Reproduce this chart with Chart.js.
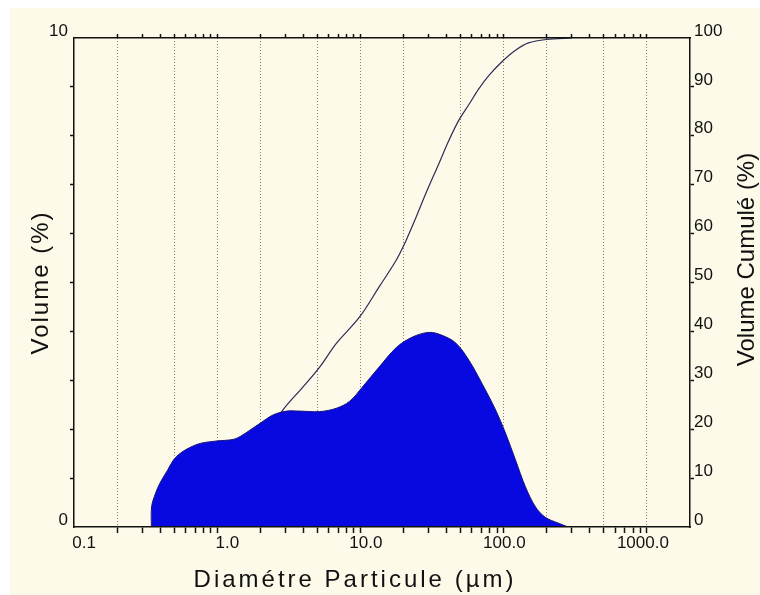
<!DOCTYPE html>
<html>
<head>
<meta charset="utf-8">
<script src="https://cdn.jsdelivr.net/npm/chart.js@4/dist/chart.umd.min.js"></script>
<style>
  html, body { margin: 0; padding: 0; background: #fff; }
  #cadre { position: absolute; left: 10px; top: 8px; width: 750px; height: 587px; background: #fdfae9; }
</style>
</head>
<body>
<div id="cadre"><canvas id="granulo" width="750" height="587"></canvas></div>
<script>
// distribution granulométrique (volume %)
const diametre = [0.347, 0.348, 0.371, 0.402, 0.450, 0.495, 0.553, 0.649, 0.762, 1.0, 1.29, 1.445, 1.69, 1.99, 2.45,
  3.06, 3.77, 5.19, 6.81, 8.4, 10.3, 13.5, 17.8, 22.9, 30.1, 37.1, 46.4, 57.2, 70.4, 88, 103, 121, 142, 167, 195, 240, 282];
const volume = [0, 0.41, 0.69, 0.92, 1.16, 1.37, 1.51, 1.63, 1.71, 1.76, 1.79, 1.85, 1.98, 2.12, 2.29,
  2.37, 2.37, 2.36, 2.43, 2.57, 2.86, 3.27, 3.67, 3.88, 3.98, 3.92, 3.76, 3.41, 2.94, 2.39, 1.92, 1.37, 0.82, 0.41, 0.20, 0.08, 0];

// volume cumulé (%)
const diametreCumul = [0.347, 0.5, 0.7, 1.0, 1.5, 2.0, 2.45, 2.87, 3.96, 5.19, 6.81, 9.84, 13.5, 17.8, 20.9, 24.5, 28.7,
  35.4, 41.5, 48.7, 57.2, 67.0, 78.7, 96.8, 121, 149, 199, 300];
const volumeCumul = [0, 1.5, 3.5, 7, 12, 16.5, 20.5, 23.9, 28.6, 32.7, 37.6, 42.9, 49.1, 54.6, 58.7, 63.4, 68.3,
  74.4, 79.1, 83.2, 86.4, 89.6, 92.3, 95.1, 97.5, 99.0, 99.7, 100];

const xLabelValues = [0.1, 1, 10, 100, 1000];
const xLabelTexts = ['0.1', '1.0', '10.0', '100.0', '1000.0'];
const yLabelValues = [0, 10];

// petites graduations 1..9 par décade
const xTicks = [];
[0.1, 1, 10, 100].forEach(dec => {
  for (let k = 1; k < 10; k++) xTicks.push(+(dec * k).toPrecision(3));
});
xTicks.push(1000);

function mantisse(v) {
  return Math.round(v / Math.pow(10, Math.floor(Math.log10(v) + 1e-9)));
}
function grilleX(v) {
  return v > 0.1 && [1, 2, 5].includes(mantisse(v));
}

const police = "'Liberation Sans', Arial, sans-serif";
const noir = '#111';
const transparent = 'rgba(0,0,0,0)';

// réglage des titres d'axes (décalage, espacement, sens)
const titreAjust = {
  x: { dx: -27, dy: 0, spacing: '3px', flip: false },
  y: { dx: 0, dy: 0, spacing: '2px', flip: false },
  y2: { dx: 0, dy: -23, spacing: '0px', flip: true }
};
const titrePlugin = {
  id: 'titres',
  beforeDraw(chart) {
    Object.keys(titreAjust).forEach(id => {
      const sc = chart.scales[id];
      if (!sc || sc._titrePatch) return;
      const a = titreAjust[id];
      const orig = sc.drawTitle;
      sc.drawTitle = function () {
        const ctx = this.ctx;
        ctx.save();
        ctx.translate(a.dx, a.dy);
        if (a.flip) {
          const cx = this.right - 13, cy = (this.top + this.bottom) / 2;
          ctx.translate(cx, cy); ctx.rotate(Math.PI); ctx.translate(-cx, -cy);
        }
        ctx.letterSpacing = a.spacing;
        orig.call(this);
        ctx.restore();
      };
      sc._titrePatch = true;
    });
  }
};

new Chart('granulo', {
  type: 'line',
  data: {
    datasets: [
      {
        label: 'Volume',
        data: diametre.map((d, i) => ({ x: d, y: volume[i] })),
        xAxisID: 'x', yAxisID: 'y',
        backgroundColor: '#0808e0',
        borderColor: '#15157a',
        borderWidth: 1,
        fill: 'origin',
        pointRadius: 0,
        tension: 0.35
      },
      {
        label: 'Volume cumulé',
        data: diametreCumul.map((d, i) => ({ x: d, y: volumeCumul[i] })),
        xAxisID: 'x', yAxisID: 'y2',
        borderColor: '#2b2b55',
        borderWidth: 1.2,
        fill: false,
        pointRadius: 0,
        tension: 0.35
      }
    ]
  },
  options: {
    responsive: false,
    animation: false,
    devicePixelRatio: 1,
    layout: { padding: 0 },
    plugins: { legend: { display: false }, tooltip: { enabled: false } },
    scales: {
      x: {
        type: 'logarithmic', position: 'bottom', min: 0.1, max: 2000,
        afterBuildTicks: s => { s.ticks = xTicks.map(v => ({ value: v })); },
        afterFit: s => { s.height = 68; },
        grid: {
          color: c => (c.tick && grilleX(c.tick.value)) ? 'rgba(110,102,88,0.85)' : transparent,
          lineWidth: 1,
          tickLength: 6,
          tickWidth: 1.5,
          tickColor: c => (c.tick && c.tick.value > 0.1) ? noir : transparent
        },
        border: { color: noir, width: 1.5, dash: [1, 2], z: 1 },
        ticks: {
          autoSkip: false, maxRotation: 0, minRotation: 0,
          align: 'end', labelOffset: 22, padding: 0,
          color: noir, font: { family: police, size: 17 },
          callback: v => { const i = xLabelValues.indexOf(v); return i >= 0 ? xLabelTexts[i] : ''; }
        },
        title: {
          display: true, text: 'Diamétre Particule (µm)', color: noir,
          font: { family: police, size: 24, lineHeight: 1 }, padding: { top: 0, bottom: 3 }
        }
      },
      x2: {
        type: 'logarithmic', position: 'top', min: 0.1, max: 2000,
        afterBuildTicks: s => { s.ticks = xTicks.map(v => ({ value: v })); },
        afterFit: s => { s.height = 30; },
        grid: {
          drawOnChartArea: false, tickLength: 4, tickWidth: 1.5,
          tickColor: c => (c.tick && c.tick.value > 0.1) ? noir : transparent
        },
        border: { color: noir, width: 1.5, z: 1 },
        ticks: { display: false }
      },
      y: {
        position: 'left', min: 0, max: 10,
        afterFit: s => { s.width = 64; },
        grid: {
          drawOnChartArea: false, tickLength: 4, tickWidth: 1.5,
          tickColor: c => (c.tick && c.tick.value > 0 && c.tick.value < 10) ? noir : transparent
        },
        border: { color: noir, width: 1.5, z: 1 },
        ticks: {
          stepSize: 1, padding: 2, labelOffset: -7, color: noir, font: { family: police, size: 17 },
          callback: v => yLabelValues.includes(v) ? String(v) : ''
        },
        title: {
          display: true, text: 'Volume (%)', color: noir,
          font: { family: police, size: 24, lineHeight: 1 }, padding: { top: 19, bottom: 0 }
        }
      },
      y2: {
        position: 'right', min: 0, max: 100,
        afterFit: s => { s.width = 70; },
        grid: {
          drawOnChartArea: false, tickLength: 4, tickWidth: 1.5,
          tickColor: c => (c.tick && c.tick.value > 0 && c.tick.value < 100) ? noir : transparent
        },
        border: { color: noir, width: 1.5, z: 1 },
        ticks: { stepSize: 10, padding: 0, labelOffset: -7, color: noir, font: { family: police, size: 17 } },
        title: {
          display: true, text: 'Volume Cumulé (%)', color: noir,
          font: { family: police, size: 24, lineHeight: 1 }, padding: { top: 1, bottom: 0 }
        }
      }
    }
  },
  plugins: [titrePlugin]
});
</script>
</body>
</html>
